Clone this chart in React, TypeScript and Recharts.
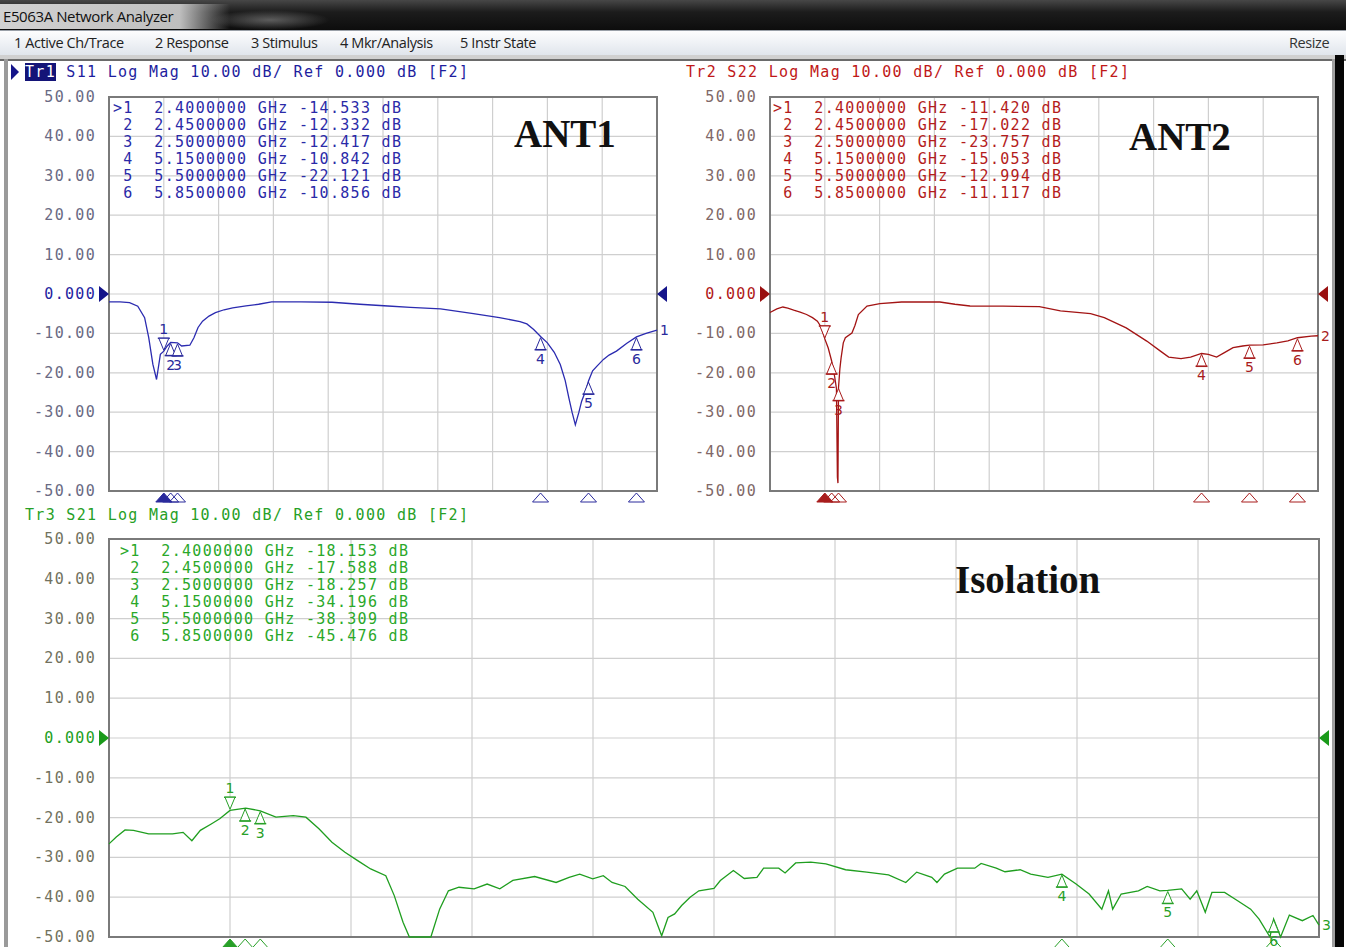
import React from 'react';
import { ComposedChart, Line, Scatter, XAxis, YAxis, CartesianGrid, ReferenceArea } from 'recharts';

// ---------- data ----------
const FREQ_TICKS = [2.0, 2.4, 2.8, 3.2, 3.6, 4.0, 4.4, 4.8, 5.2, 5.6, 6.0];
const DB_TICKS = [50, 40, 30, 20, 10, 0, -10, -20, -30, -40, -50];
const MARKER_FREQ = [2.4, 2.45, 2.5, 5.15, 5.5, 5.85];
const S11_MARKERS = [-14.533, -12.332, -12.417, -10.842, -22.121, -10.856];
const S22_MARKERS = [-11.42, -17.022, -23.757, -15.053, -12.994, -11.117];
const S21_MARKERS = [-18.153, -17.588, -18.257, -34.196, -38.309, -45.476];

const S11_FREQ = [2.0, 2.08, 2.15, 2.21, 2.26, 2.29, 2.32, 2.347, 2.375, 2.4, 2.425, 2.45, 2.5, 2.53, 2.59, 2.62, 2.65, 2.683, 2.73, 2.777, 2.84, 2.903, 3.0, 3.092, 3.187, 3.4, 3.627, 3.83, 4.036, 4.2, 4.42, 4.66, 4.85, 5.0, 5.05, 5.1, 5.15, 5.2, 5.25, 5.294, 5.33, 5.357, 5.38, 5.404, 5.43, 5.45, 5.48, 5.5, 5.53, 5.562, 5.609, 5.65, 5.704, 5.78, 5.85, 5.92, 6.0];
const S11_DB = [-2.0, -2.0, -2.2, -3.1, -6.0, -11.1, -17.8, -21.7, -15.3, -14.5, -13.2, -12.3, -12.4, -13.2, -13.0, -11.1, -8.5, -6.9, -5.6, -4.75, -4.0, -3.5, -3.0, -2.6, -2.0, -2.0, -2.1, -2.6, -3.05, -3.4, -3.8, -5.0, -6.0, -7.0, -7.6, -9.0, -10.8, -12.4, -14.8, -17.9, -22.0, -26.4, -30.0, -33.2, -30.0, -27.2, -24.5, -22.1, -19.5, -18.3, -16.6, -15.5, -14.5, -12.5, -10.9, -10.0, -9.2];

const S22_FREQ = [2.0, 2.05, 2.094, 2.13, 2.173, 2.22, 2.267, 2.31, 2.346, 2.375, 2.4, 2.425, 2.45, 2.472, 2.485, 2.492, 2.496, 2.5, 2.51, 2.519, 2.535, 2.55, 2.598, 2.62, 2.645, 2.708, 2.802, 2.96, 3.24, 3.35, 3.46, 3.7, 3.966, 4.12, 4.34, 4.44, 4.6, 4.75, 4.85, 4.91, 5.0, 5.07, 5.15, 5.2, 5.26, 5.32, 5.38, 5.45, 5.5, 5.6, 5.7, 5.78, 5.85, 5.95, 6.0];
const S22_DB = [-4.7, -3.8, -3.3, -3.6, -4.1, -4.6, -5.2, -6.0, -6.9, -8.5, -11.4, -13.7, -17.0, -21.0, -24.0, -46.5, -48.0, -23.8, -19.0, -16.2, -12.4, -11.1, -9.9, -8.0, -5.2, -3.05, -2.46, -2.03, -2.03, -2.6, -3.05, -3.1, -3.2, -4.3, -5.0, -6.0, -8.6, -11.95, -14.5, -16.0, -16.4, -16.0, -15.1, -15.3, -16.0, -14.8, -13.6, -13.2, -13.0, -12.9, -12.4, -11.9, -11.1, -10.7, -10.6];

const S21_FREQ = [2.0, 2.024, 2.053, 2.081, 2.131, 2.21, 2.245, 2.274, 2.302, 2.338, 2.366, 2.4, 2.452, 2.5, 2.552, 2.609, 2.651, 2.694, 2.737, 2.78, 2.822, 2.865, 2.915, 2.943, 2.972, 2.993, 3.064, 3.093, 3.122, 3.157, 3.207, 3.25, 3.292, 3.335, 3.407, 3.478, 3.521, 3.556, 3.599, 3.634, 3.663, 3.706, 3.748, 3.798, 3.827, 3.848, 3.87, 3.893, 3.921, 3.95, 4.0, 4.021, 4.064, 4.1, 4.142, 4.164, 4.214, 4.235, 4.27, 4.32, 4.37, 4.435, 4.505, 4.577, 4.634, 4.67, 4.72, 4.737, 4.762, 4.805, 4.862, 4.883, 4.933, 4.962, 5.012, 5.047, 5.104, 5.15, 5.197, 5.24, 5.282, 5.304, 5.318, 5.346, 5.403, 5.432, 5.474, 5.5, 5.546, 5.574, 5.596, 5.624, 5.646, 5.688, 5.731, 5.774, 5.802, 5.838, 5.85, 5.873, 5.902, 5.945, 5.98, 6.0];
const S21_DB = [-26.6, -24.9, -23.1, -23.2, -24.1, -24.1, -23.7, -25.8, -23.2, -21.6, -20.3, -18.2, -17.6, -18.3, -19.9, -19.5, -19.9, -22.8, -26.2, -28.7, -30.8, -32.9, -34.6, -39.6, -46.3, -50.0, -50.0, -43.0, -38.4, -37.5, -37.9, -36.7, -37.9, -35.8, -34.8, -36.3, -35.0, -34.2, -35.4, -34.6, -36.3, -37.3, -40.5, -43.8, -49.7, -45.1, -44.2, -42.1, -40.0, -38.4, -37.8, -35.8, -33.3, -35.3, -35.0, -32.7, -32.7, -33.9, -31.4, -31.2, -31.6, -33.1, -33.7, -34.4, -36.3, -33.7, -35.0, -36.3, -34.2, -32.7, -32.7, -31.5, -32.7, -33.6, -33.1, -34.2, -35.0, -34.2, -36.7, -39.2, -43.0, -38.4, -43.0, -39.2, -38.4, -37.3, -38.4, -38.3, -37.9, -40.5, -38.4, -43.8, -38.8, -38.8, -40.9, -43.0, -45.5, -50.0, -45.5, -50.0, -44.5, -45.9, -44.6, -47.0];

const MENU_ITEMS = ['1 Active Ch/Trace', '2 Response', '3 Stimulus', '4 Mkr/Analysis', '5 Instr State'];
const MENU_X = [14, 155, 251, 340, 460];

// ---------- styling ----------
const MONO = '"DejaVu Sans Mono", monospace';
const SANS = '"DejaVu Sans", sans-serif';
const UI = '"Open Sans", sans-serif';

const toData = (fs: number[], vs: number[]) => fs.map((f, i) => ({ f, v: vs[i] }));
const toMarkers = (vs: number[]) => MARKER_FREQ.map((f, i) => ({ f, v: vs[i], n: i + 1 }));

type PanelProps = {
  left: number; top: number; width: number; height: number;
  mTop: number; mRight: number; mBottom: number;
  trace: { f: number; v: number }[];
  markers: { f: number; v: number; n: number }[];
  traceColor: string; markerColor: string; labelColor: string; zeroColor: string; arrowColor: string;
  traceNo: string;
};

const YW = 109;

function Panel(p: PanelProps) {
  const plotLeft = YW;
  const plotRight = p.width - p.mRight;
  const plotBottom = p.height - p.mBottom;
  const last = p.trace[p.trace.length - 1];

  const tick = (props: any) => {
    const { y, payload } = props;
    const v = payload.value;
    const txt = v === 0 ? '0.000' : v.toFixed(2);
    return (
      <g>
        <text x={plotLeft - 13} y={y} dy={5} textAnchor="end" fill={v === 0 ? p.zeroColor : p.labelColor}
          style={{ fontFamily: MONO, fontSize: 15, letterSpacing: 1.3 }}>{txt}</text>
        {v === 0 && <polygon points={`${plotLeft - 10},${y - 8} ${plotLeft},${y} ${plotLeft - 10},${y + 8}`} fill={p.arrowColor} />}
        {v === 0 && <polygon points={`${plotRight + 10},${y - 8} ${plotRight},${y} ${plotRight + 10},${y + 8}`} fill={p.arrowColor} />}
      </g>
    );
  };

  const markerShape = (props: any) => {
    const { cx, cy, payload } = props;
    const n = payload.n;
    const c = p.markerColor;
    const pb = plotBottom;
    const bottom = n === 1
      ? <polygon points={`${cx},${pb + 2} ${cx - 8},${pb + 11} ${cx + 8},${pb + 11}`} fill={c} stroke={c} />
      : <polygon points={`${cx},${pb + 2} ${cx - 8},${pb + 11} ${cx + 8},${pb + 11}`} fill="none" stroke={c} strokeWidth={1} />;
    if (n === 1) {
      return (
        <g>
          <line x1={cx - 6} x2={cx + 6} y1={cy - 13} y2={cy - 13} stroke={c} strokeWidth={1.5} />
          <polygon points={`${cx - 5},${cy - 13} ${cx + 5},${cy - 13} ${cx},${cy - 1}`} fill="#fff" stroke={c} strokeWidth={1} />
          <text x={cx} y={cy - 17} textAnchor="middle" fill={c} style={{ fontFamily: SANS, fontSize: 14 }}>{n}</text>
          {bottom}
        </g>
      );
    }
    return (
      <g>
        <polygon points={`${cx},${cy + 1} ${cx - 5},${cy + 13} ${cx + 5},${cy + 13}`} fill="#fff" stroke={c} strokeWidth={1} />
        <line x1={cx - 6} x2={cx + 6} y1={cy + 13} y2={cy + 13} stroke={c} strokeWidth={1.5} />
        <text x={cx} y={cy + 27} textAnchor="middle" fill={c} style={{ fontFamily: SANS, fontSize: 14 }}>{n}</text>
        {bottom}
      </g>
    );
  };

  const endShape = (props: any) => {
    const { cx, cy } = props;
    return <text x={cx + 3} y={cy + 5} fill={p.markerColor} style={{ fontFamily: SANS, fontSize: 14 }}>{p.traceNo}</text>;
  };

  return (
    <div style={{ position: 'absolute', left: p.left, top: p.top }}>
      <ComposedChart width={p.width} height={p.height} data={p.trace}
        margin={{ top: p.mTop, right: p.mRight, bottom: p.mBottom, left: 0 }}>
        <CartesianGrid stroke="#cfcfcf" strokeWidth={1.2} />
        <XAxis dataKey="f" type="number" domain={[2, 6]} ticks={FREQ_TICKS} hide />
        <YAxis type="number" domain={[-50, 50]} ticks={DB_TICKS} interval={0} width={YW}
          axisLine={false} tickLine={false} tick={tick} />
        <ReferenceArea x1={2} x2={6} y1={-50} y2={50} fill="none" stroke="#7a7a7a" strokeWidth={2} />
        <Line dataKey="v" type="linear" stroke={p.traceColor} strokeWidth={1.3} dot={false} isAnimationActive={false} />
        <Scatter data={p.markers} dataKey="v" shape={markerShape} isAnimationActive={false} />
        <Scatter data={[last]} dataKey="v" shape={endShape} isAnimationActive={false} />
      </ComposedChart>
    </div>
  );
}

function Table({ left, top, values, color }: { left: number; top: number; values: number[]; color: string }) {
  return (
    <div style={{ position: 'absolute', left, top, fontFamily: MONO, fontSize: 15, letterSpacing: 1.3, color, whiteSpace: 'pre' }}>
      {MARKER_FREQ.map((f, i) => (
        <div key={i} style={{ height: 17, lineHeight: '17px' }}>
          {`${i === 0 ? '>' : ' '}${i + 1}  ${f.toFixed(7)} GHz ${values[i].toFixed(3)} dB`}
        </div>
      ))}
    </div>
  );
}

const headerStyle: React.CSSProperties = {
  position: 'absolute', fontFamily: MONO, fontSize: 15, letterSpacing: 1.3, whiteSpace: 'pre', lineHeight: '18px', height: 18,
};

const bigLabel: React.CSSProperties = {
  position: 'absolute', fontFamily: '"Liberation Serif", "Times New Roman", serif', fontWeight: 'bold', fontSize: 39, color: '#111', lineHeight: '40px',
};

const menuText: React.CSSProperties = {
  position: 'absolute', top: 32, fontFamily: UI, fontSize: 14.5, color: '#222', lineHeight: '22px', letterSpacing: -0.4, whiteSpace: 'pre',
};

export default function App() {
  return (
    <div style={{ position: 'absolute', left: 0, top: 0, width: 1346, height: 947, overflow: 'hidden', background: '#fff' }}>
      {/* title bar */}
      <div style={{ position: 'absolute', left: 0, top: 0, width: 1346, height: 30, background: 'linear-gradient(180deg, #474747 0%, #1c1c1c 40%, #0d0d0d 100%)' }} />
      <div style={{ position: 'absolute', left: 0, top: 4, width: 230, height: 25, background: 'linear-gradient(90deg, rgba(210,210,210,1) 0%, rgba(200,200,200,0.95) 78%, rgba(200,200,200,0) 100%)' }} />
      <div style={{ position: 'absolute', left: 210, top: 10, width: 120, height: 20, background: 'radial-gradient(ellipse at center, rgba(140,140,140,0.6) 0%, rgba(140,140,140,0) 70%)' }} />
      <div style={{ position: 'absolute', left: 3, top: 5, fontFamily: UI, fontSize: 15, color: '#111', lineHeight: '22px', letterSpacing: -0.4, whiteSpace: 'pre' }}>E5063A Network Analyzer</div>
      {/* menu bar */}
      <div style={{ position: 'absolute', left: 0, top: 30, width: 1346, height: 25, background: 'linear-gradient(180deg, #fdfdfe 0%, #eef1f5 50%, #dfe4eb 100%)', borderTop: '1px solid #9aa0a8' }} />
      {MENU_ITEMS.map((t, i) => (
        <div key={t} style={{ ...menuText, left: MENU_X[i] }}>{t}</div>
      ))}
      <div style={{ ...menuText, left: 1289, color: '#333' }}>Resize</div>
      {/* frame */}
      <div style={{ position: 'absolute', left: 0, top: 55, width: 1346, height: 4, background: '#d0d0d0', borderBottom: '2px solid #6a6a6a' }} />
      <div style={{ position: 'absolute', left: 4, top: 59, width: 4, height: 888, background: '#9a9a9a' }} />
      <div style={{ position: 'absolute', left: 1332, top: 59, width: 3, height: 888, background: '#a0a0a0' }} />
      <div style={{ position: 'absolute', left: 1335, top: 55, width: 9, height: 892, background: '#050505' }} />

      {/* panels */}
      <Panel left={0} top={80} width={700} height={440} mTop={17} mRight={43} mBottom={29}
        trace={toData(S11_FREQ, S11_DB)} markers={toMarkers(S11_MARKERS)}
        traceColor="#2b2bb0" markerColor="#2a2a9c" labelColor="#6a6a84" zeroColor="#2424a0" arrowColor="#15158a" traceNo="1" />
      <Panel left={661} top={80} width={690} height={440} mTop={17} mRight={33} mBottom={29}
        trace={toData(S22_FREQ, S22_DB)} markers={toMarkers(S22_MARKERS)}
        traceColor="#a31414" markerColor="#a81c1c" labelColor="#806868" zeroColor="#b01818" arrowColor="#9a1010" traceNo="2" />
      <Panel left={0} top={520} width={1346} height={427} mTop={19} mRight={27} mBottom={10}
        trace={toData(S21_FREQ, S21_DB)} markers={toMarkers(S21_MARKERS)}
        traceColor="#1f9e1f" markerColor="#28a028" labelColor="#72725e" zeroColor="#22a022" arrowColor="#1a9a1a" traceNo="3" />

      {/* headers */}
      <svg style={{ position: 'absolute', left: 11, top: 64 }} width={10} height={16}><polygon points="0,0 8,8 0,16" fill="#15158a" /></svg>
      <div style={{ ...headerStyle, left: 25, top: 63, color: '#1e1e9e' }}>
        <span style={{ background: '#141478', color: '#fff' }}>Tr1</span>{' S11 Log Mag 10.00 dB/ Ref 0.000 dB [F2]'}
      </div>
      <div style={{ ...headerStyle, left: 686, top: 63, color: '#c01818' }}>Tr2 S22 Log Mag 10.00 dB/ Ref 0.000 dB [F2]</div>
      <div style={{ ...headerStyle, left: 25, top: 506, color: '#26a026' }}>Tr3 S21 Log Mag 10.00 dB/ Ref 0.000 dB [F2]</div>

      {/* marker tables */}
      <Table left={113} top={100} values={S11_MARKERS} color="#2a2aa8" />
      <Table left={773} top={100} values={S22_MARKERS} color="#b41c1c" />
      <Table left={120} top={543} values={S21_MARKERS} color="#2aa82a" />

      {/* annotations */}
      <div style={{ ...bigLabel, left: 514, top: 114 }}>ANT1</div>
      <div style={{ ...bigLabel, left: 1129, top: 117 }}>ANT2</div>
      <div style={{ ...bigLabel, left: 955, top: 560 }}>Isolation</div>
    </div>
  );
}
